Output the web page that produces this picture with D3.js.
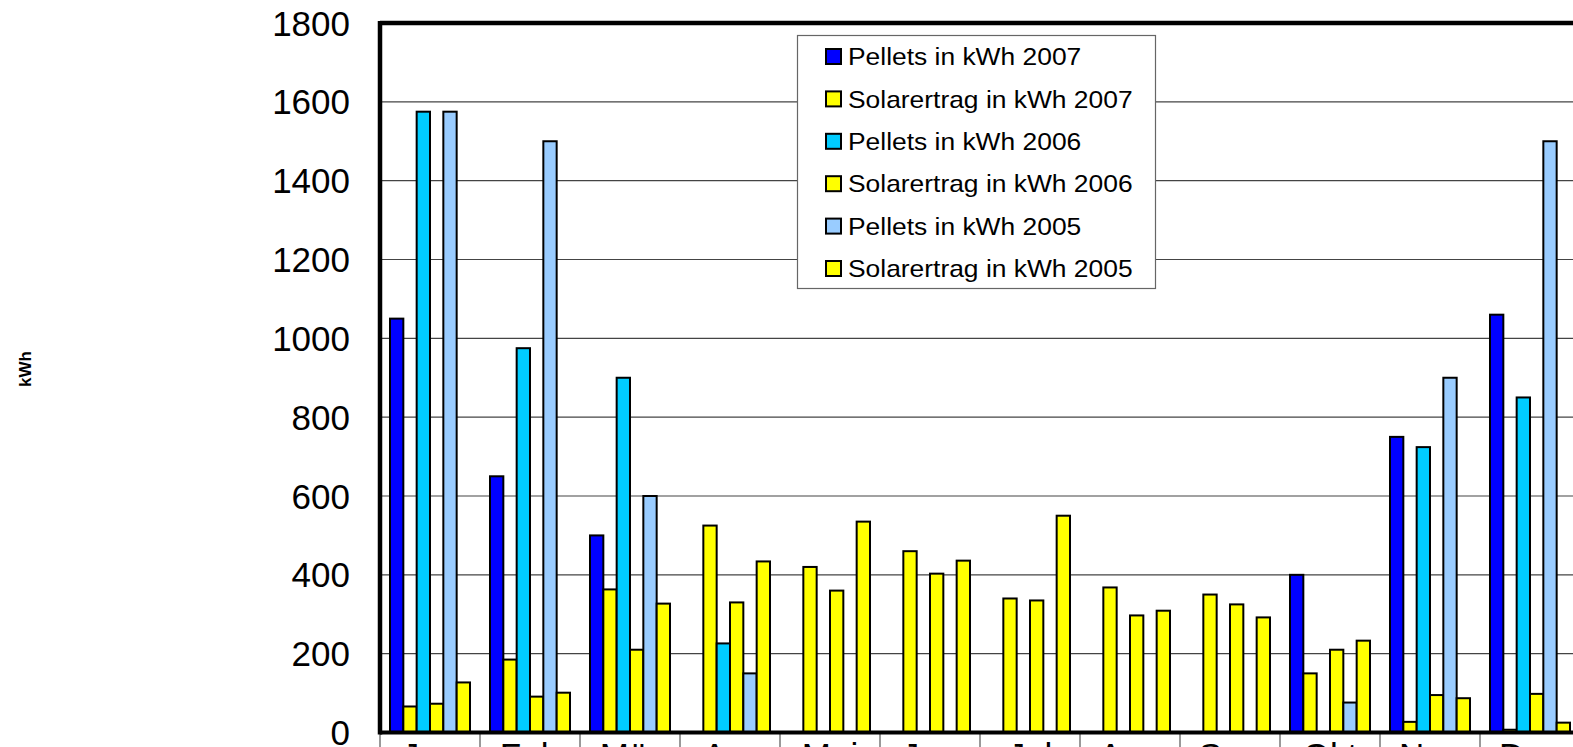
<!DOCTYPE html>
<html><head><meta charset="utf-8">
<script src="https://cdn.jsdelivr.net/npm/d3@7"></script>
<style>html,body{margin:0;padding:0;background:#fff;overflow:hidden}svg{display:block}</style>
</head><body>
<svg id="c" width="1573" height="747"></svg>
<script>
const months = ["Jan","Feb","Mär","Apr","Mai","Jun","Jul","Aug","Sep","Okt","Nov","Dez"];
const seriesNames = ["Pellets in kWh 2007","Solarertrag in kWh 2007","Pellets in kWh 2006","Solarertrag in kWh 2006","Pellets in kWh 2005","Solarertrag in kWh 2005"];
const seriesColors = ["#0000FF","#FFFF00","#00CCFF","#FFFF00","#99CCFF","#FFFF00"];
const pellets2007 = [1050, 650, 500, 0, 0, 0, 0, 0, 0, 400, 750, 1060];
const solar2007   = [66, 185, 363, 525, 420, 460, 340, 368, 350, 150, 27, 7];
const pellets2006 = [1575, 975, 900, 226, 0, 0, 0, 0, 0, 0, 724, 850];
const solar2006   = [73, 91, 210, 330, 360, 403, 335, 297, 325, 210, 95, 98];
const pellets2005 = [1575, 1500, 600, 150, 0, 0, 0, 0, 0, 76, 900, 1500];
const solar2005   = [127, 101, 327, 434, 535, 436, 550, 309, 292, 233, 87, 25];
const yTicks = [0,200,400,600,800,1000,1200,1400,1600,1800];
const series = [pellets2007, solar2007, pellets2006, solar2006, pellets2005, solar2005];

const svg = d3.select("#c");
const L = 380, R = 1580, T = 23, B = 732.5;
const x = d3.scaleBand().domain(months).range([L, R]).paddingInner(0.2).paddingOuter(0.1);
const xs = d3.scaleBand().domain(d3.range(6)).range([0, x.bandwidth()]);
const y = d3.scaleLinear().domain([0, 1800]).range([B, T]);

// gridlines
svg.append("g").selectAll("line").data(yTicks.filter(d => d > 0 && d < 1800)).join("line")
  .attr("x1", L).attr("x2", R).attr("y1", d => y(d)).attr("y2", d => y(d))
  .attr("stroke", "#444").attr("stroke-width", 1.2);

// category boundary ticks
const bounds = months.map(m => x(m) - x.step() * 0.1);
svg.append("g").selectAll("line").data(bounds).join("line")
  .attr("x1", d => d).attr("x2", d => d).attr("y1", B).attr("y2", 760)
  .attr("stroke", "#555").attr("stroke-width", 1.2);

// bars
const g = svg.append("g");
series.forEach((vals, si) => {
  g.append("g").selectAll("rect").data(vals.map((v, i) => ({m: months[i], v}))).join("rect")
    .filter(d => d.v > 0)
    .attr("x", d => x(d.m) + xs(si))
    .attr("width", xs.bandwidth())
    .attr("y", d => y(d.v))
    .attr("height", d => B - y(d.v))
    .attr("fill", seriesColors[si])
    .attr("stroke", "#000").attr("stroke-width", 2);
});

// frame
svg.append("line").attr("x1", L).attr("x2", R + 5).attr("y1", T).attr("y2", T).attr("stroke", "#000").attr("stroke-width", 4.5);
svg.append("line").attr("x1", L).attr("x2", L).attr("y1", T - 2).attr("y2", B + 2).attr("stroke", "#000").attr("stroke-width", 4.5);
svg.append("line").attr("x1", L).attr("x2", R + 5).attr("y1", B).attr("y2", B).attr("stroke", "#000").attr("stroke-width", 4);

// y labels
svg.append("g").selectAll("text").data(yTicks).join("text")
  .attr("x", 350).attr("y", d => y(d)).attr("dy", "0.36em")
  .attr("text-anchor", "end")
  .attr("font-family", "Liberation Sans, Arial, sans-serif").attr("font-size", 35)
  .text(d => d);

// x labels (cut off at bottom as in the reference)
svg.append("g").selectAll("text").data(months).join("text")
  .attr("x", d => x(d) + x.bandwidth() / 2).attr("y", 768)
  .attr("text-anchor", "middle")
  .attr("font-family", "Liberation Sans, Arial, sans-serif").attr("font-size", 35)
  .text(d => d);

// y title
svg.append("text").attr("transform", "translate(31,369) rotate(-90)")
  .attr("text-anchor", "middle")
  .attr("font-family", "Liberation Sans, Arial, sans-serif").attr("font-size", 17).attr("font-weight", "bold")
  .text("kWh");

// legend
const lg = svg.append("g");
lg.append("rect").attr("x", 797.5).attr("y", 35.5).attr("width", 358).attr("height", 253)
  .attr("fill", "#fff").attr("stroke", "#666").attr("stroke-width", 1.2);
const ly = d3.scalePoint().domain(d3.range(6)).range([56.5, 268.5]);
const items = lg.selectAll("g.it").data(seriesNames).join("g").attr("class", "it")
  .attr("transform", (d, i) => `translate(0,${ly(i)})`);
items.append("rect").attr("x", 826).attr("y", -7.5).attr("width", 15).attr("height", 15)
  .attr("fill", (d, i) => seriesColors[i]).attr("stroke", "#000").attr("stroke-width", 2);
items.append("text").attr("transform", "translate(848,0) scale(1.1,1)").attr("dy", "0.36em")
  .attr("font-family", "Liberation Sans, Arial, sans-serif").attr("font-size", 24)
  .text(d => d);
</script>
</body></html>
